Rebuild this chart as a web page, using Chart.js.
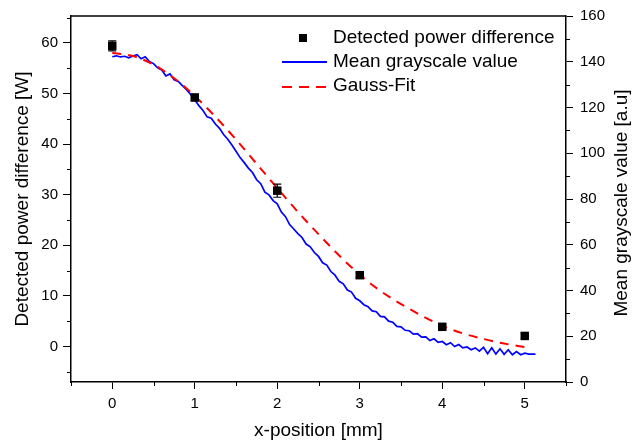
<!DOCTYPE html>
<html>
<head>
<meta charset="utf-8">
<script src="https://cdn.jsdelivr.net/npm/chart.js@4"></script>
<style>
    html, body { margin: 0; padding: 0; background: #ffffff; }
    #wrap { width: 632px; height: 443px; }
</style>
</head>
<body>
<div id="wrap"><canvas id="profileChart" width="632" height="443"></canvas></div>
<script>
// measured power difference at each x-position
const powerX = [0, 1, 2, 3, 4, 5];
const powerValues = [59.4, 49.2, 30.8, 14.1, 3.9, 2.1];
const powerErrors = [1.0, 0.6, 1.3, 0.5, 0.5, 0.5];

// gauss fit (left axis, W)
const gaussX = [0, 0.25, 0.5, 0.75, 1, 1.25, 1.5, 1.75, 2, 2.25, 2.5, 2.75, 3, 3.25, 3.5, 3.75, 4, 4.25, 4.5, 4.75, 5];
const gaussValues = [58.0, 57.4, 55.7, 53.0, 49.5, 45.4, 40.9, 36.1, 31.3, 26.6, 22.2, 18.0, 14.2, 11.0, 8.4, 6.1, 4.1, 2.6, 1.5, 0.6, -0.1];

// mean grayscale profile (right axis, a.u)
const grayX = [0, 0.05, 0.1, 0.15, 0.2, 0.25, 0.3, 0.35, 0.4, 0.45, 0.5, 0.55, 0.6, 0.65, 0.7, 0.75, 0.8, 0.85, 0.9, 0.95,
    1, 1.05, 1.1, 1.15, 1.2, 1.25, 1.3, 1.35, 1.4, 1.45, 1.5, 1.55, 1.6, 1.65, 1.7, 1.75, 1.8, 1.85, 1.9, 1.95,
    2, 2.05, 2.1, 2.15, 2.2, 2.25, 2.3, 2.35, 2.4, 2.45, 2.5, 2.55, 2.6, 2.65, 2.7, 2.75, 2.8, 2.85, 2.9, 2.95,
    3, 3.05, 3.1, 3.15, 3.2, 3.25, 3.3, 3.35, 3.4, 3.45, 3.5, 3.55, 3.6, 3.65, 3.7, 3.75, 3.8, 3.85, 3.9, 3.95,
    4, 4.05, 4.1, 4.15, 4.2, 4.25, 4.3, 4.35, 4.4, 4.45, 4.5, 4.55, 4.6, 4.65, 4.7, 4.75, 4.8, 4.85, 4.9, 4.95,
    5, 5.05, 5.1, 5.13];
const grayValues = [142.2, 142.6, 142.1, 142.4, 141.7, 142.5, 143.1, 141.3, 142.2, 140.1, 139.2, 137.3, 136.4, 133.8, 134.7, 132.1, 131.4, 129.6, 127.8, 125.7,
    123.4, 120.8, 118.7, 115.9, 115.3, 112.8, 110.9, 108.2, 106.1, 103.6, 100.9, 98.1, 95.9, 93.5, 91.6, 88.4, 86.7, 83.0, 81.8, 79.3,
    77.9, 74.3, 72.3, 68.8, 66.9, 64.9, 63.2, 60.3, 59.1, 56.6, 54.9, 52.1, 51.1, 48.3, 46.7, 44.0, 42.9, 40.2, 39.3, 36.6,
    35.5, 33.8, 32.9, 31.1, 30.7, 28.7, 28.5, 26.6, 26.1, 24.3, 24.1, 22.6, 22.4, 20.9, 21.1, 19.6, 19.7, 18.1, 18.9, 17.3,
    17.7, 16.3, 17.2, 15.5, 16.4, 14.9, 15.3, 14.1, 14.9, 13.5, 15.2, 12.4, 15.0, 12.2, 14.5, 12.1, 14.1, 11.9, 13.3, 11.9,
    12.6, 12.2, 12.2, 12.2];

// tick values
const xTicks = [0, 1, 2, 3, 4, 5];
const xMinorTicks = [-0.5, 0.5, 1.5, 2.5, 3.5, 4.5, 5.5];
const leftTicks = [0, 10, 20, 30, 40, 50, 60];
const leftMinorTicks = [-5, 5, 15, 25, 35, 45, 55, 65];
const rightTicks = [0, 20, 40, 60, 80, 100, 120, 140, 160];
const rightMinorTicks = [10, 30, 50, 70, 90, 110, 130, 150];

const fontFamily = "'Liberation Sans', Arial, sans-serif";

function zip(xs, ys) {
    return xs.map(function(x, i) { return { x: x, y: ys[i] }; });
}

function setTicks(values) {
    return function(scale) {
        scale.ticks = values.map(function(v) { return { value: v }; });
    };
}

// minor ticks, top border, error bars, legend and right title
const extrasPlugin = {
    id: 'extras',
    afterDatasetsDraw: function(chart) {
        const ctx = chart.ctx;
        const xs = chart.scales.x;
        const ys = chart.scales.y;
        ctx.save();
        ctx.strokeStyle = '#000000';
        ctx.lineWidth = 1.2;
        powerX.forEach(function(x, i) {
            const px = xs.getPixelForValue(x);
            const top = ys.getPixelForValue(powerValues[i] + powerErrors[i]);
            const bot = ys.getPixelForValue(powerValues[i] - powerErrors[i]);
            ctx.beginPath();
            ctx.moveTo(px, top); ctx.lineTo(px, bot);
            ctx.moveTo(px - 4, top); ctx.lineTo(px + 4, top);
            ctx.moveTo(px - 4, bot); ctx.lineTo(px + 4, bot);
            ctx.stroke();
        });
        ctx.restore();
    },
    afterDraw: function(chart) {
        const ctx = chart.ctx;
        const area = chart.chartArea;
        const xs = chart.scales.x;
        const ys = chart.scales.y;
        const ys1 = chart.scales.y1;
        ctx.save();
        ctx.strokeStyle = '#000000';
        ctx.lineWidth = 1.5;
        ctx.beginPath();
        ctx.moveTo(area.left, area.top);
        ctx.lineTo(area.right, area.top);
        ctx.stroke();

        ctx.lineWidth = 1;
        ctx.beginPath();
        xMinorTicks.forEach(function(v) {
            const p = Math.round(xs.getPixelForValue(v)) + 0.5;
            ctx.moveTo(p, area.bottom); ctx.lineTo(p, area.bottom + 4);
        });
        leftMinorTicks.forEach(function(v) {
            const p = Math.round(ys.getPixelForValue(v)) + 0.5;
            if (p < area.top || p > area.bottom) return;
            ctx.moveTo(area.left - 4, p); ctx.lineTo(area.left, p);
        });
        rightMinorTicks.forEach(function(v) {
            const p = Math.round(ys1.getPixelForValue(v)) + 0.5;
            ctx.moveTo(area.right, p); ctx.lineTo(area.right + 4, p);
        });
        ctx.stroke();

        // right axis title, reading bottom to top
        ctx.fillStyle = '#000000';
        ctx.font = '19px ' + fontFamily;
        ctx.textAlign = 'center';
        ctx.textBaseline = 'middle';
        ctx.translate(622, (area.top + area.bottom) / 2 + 4);
        ctx.rotate(-Math.PI / 2);
        ctx.fillText('Mean grayscale value [a.u]', 0, 0);
        ctx.setTransform(1, 0, 0, 1, 0, 0);

        // legend
        ctx.textAlign = 'left';
        ctx.fillStyle = '#000000';
        ctx.fillRect(299, 34, 8, 8);
        ctx.fillText('Detected power difference', 333, 38);
        ctx.strokeStyle = '#0000ff';
        ctx.lineWidth = 2;
        ctx.beginPath(); ctx.moveTo(282, 62); ctx.lineTo(327, 62); ctx.stroke();
        ctx.fillText('Mean grayscale value', 333, 62);
        ctx.strokeStyle = '#ff0000';
        ctx.setLineDash([10, 7]);
        ctx.beginPath(); ctx.moveTo(282, 87); ctx.lineTo(327, 87); ctx.stroke();
        ctx.setLineDash([]);
        ctx.fillText('Gauss-Fit', 333, 86);
        ctx.restore();
    }
};

const axisColor = '#000000';

new Chart(document.getElementById('profileChart'), {
    type: 'scatter',
    data: {
        datasets: [{
            label: 'Detected power difference',
            data: zip(powerX, powerValues),
            yAxisID: 'y',
            pointStyle: 'rect',
            pointRadius: 6,
            backgroundColor: '#000000',
            borderColor: '#000000',
            borderWidth: 0,
            showLine: false,
            order: 0
        }, {
            label: 'Gauss-Fit',
            data: zip(gaussX, gaussValues),
            yAxisID: 'y',
            showLine: true,
            pointRadius: 0,
            borderColor: '#ff0000',
            borderWidth: 2,
            borderDash: [9, 7],
            cubicInterpolationMode: 'monotone',
            order: 1
        }, {
            label: 'Mean grayscale value',
            data: zip(grayX, grayValues),
            yAxisID: 'y1',
            showLine: true,
            pointRadius: 0,
            borderColor: '#0000ff',
            borderWidth: 1.7,
            tension: 0,
            order: 2
        }]
    },
    options: {
        responsive: false,
        animation: false,
        layout: { padding: { top: 16, right: 0, bottom: 0, left: 0 } },
        plugins: {
            legend: { display: false },
            tooltip: { enabled: false }
        },
        scales: {
            x: {
                type: 'linear',
                position: 'bottom',
                min: -0.5,
                max: 5.5,
                afterBuildTicks: setTicks(xTicks),
                afterFit: function(scale) { scale.height = 61; },
                grid: { drawOnChartArea: false, tickLength: 7, tickColor: axisColor, tickWidth: 1 },
                border: { color: axisColor, width: 1.5 },
                ticks: { color: axisColor, font: { family: fontFamily, size: 15 }, padding: 6, maxRotation: 0 },
                title: { display: true, text: 'x-position [mm]', color: axisColor, font: { family: fontFamily, size: 19 }, padding: { top: 0, bottom: 1 } }
            },
            y: {
                type: 'linear',
                position: 'left',
                min: -7,
                max: 65.3,
                afterBuildTicks: setTicks(leftTicks),
                afterFit: function(scale) { scale.width = 71; },
                grid: { drawOnChartArea: false, tickLength: 8, tickColor: axisColor, tickWidth: 1 },
                border: { color: axisColor, width: 1.5 },
                ticks: { color: axisColor, font: { family: fontFamily, size: 15 }, padding: 5 },
                title: { display: true, text: 'Detected power difference [W]', color: axisColor, font: { family: fontFamily, size: 19 }, padding: { top: 11, bottom: 0 } }
            },
            y1: {
                type: 'linear',
                position: 'right',
                min: 0,
                max: 160,
                afterBuildTicks: setTicks(rightTicks),
                afterFit: function(scale) { scale.width = 66; },
                grid: { drawOnChartArea: false, tickLength: 7, tickColor: axisColor, tickWidth: 1 },
                border: { color: axisColor, width: 1.5 },
                ticks: { color: axisColor, font: { family: fontFamily, size: 15 }, padding: 7 }
            }
        }
    },
    plugins: [extrasPlugin]
});
</script>
</body>
</html>
